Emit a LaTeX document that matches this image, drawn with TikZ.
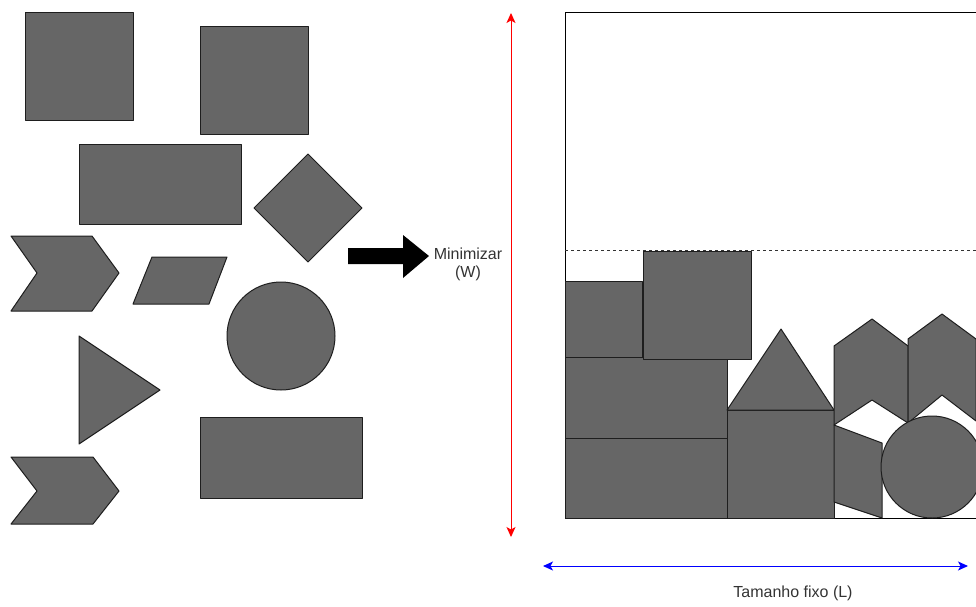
\documentclass[tikz,border=0pt]{standalone}
\usepackage{fontspec}
\setmainfont{Liberation Sans}
\usetikzlibrary{arrows.meta}
\definecolor{shapegray}{HTML}{666666}
\definecolor{shapeline}{HTML}{1E1E1E}
\definecolor{textgray}{HTML}{333333}
\begin{document}
\begin{tikzpicture}[x=1pt,y=-1pt,
  >={Stealth[length=10pt,width=9pt,inset=2.5pt]},
  shp/.style={fill=shapegray, draw=shapeline, line width=1pt, line join=round},
  lbl/.style={text=textgray, font=\fontsize{16}{18}\selectfont, align=center}]
\useasboundingbox (0,0) rectangle (976,606);
\clip (0,0) rectangle (976,606);

% ---- left: loose shapes ----
\draw[shp] (25,12) rectangle (133,120);
\draw[shp] (200,26) rectangle (308,134);
\draw[shp] (79,144) rectangle (241,224);
\draw[shp] (308,154) -- (362,208) -- (308,262) -- (254,208) -- cycle;
\draw[shp] (11,236) -- (92,236) -- (119,273) -- (92,311) -- (11,311) -- (37,273) -- cycle;
\draw[shp] (152,257) -- (227,257) -- (209,304) -- (133,304) -- cycle;
\draw[shp] (281,336) circle[radius=54];
\draw[shp] (79,336) -- (160,390) -- (79,444) -- cycle;
\draw[shp] (200,417) rectangle (362,498);
\draw[shp] (11,457) -- (93,457) -- (119,491) -- (93,524) -- (11,524) -- (37,491) -- cycle;

% ---- block arrow and label ----
\fill[black] (348,248) -- (403,248) -- (403,235) -- (429,256) -- (403,278) -- (403,264) -- (348,264) -- cycle;
\node[lbl] (minlabel) at (468,264) {Minimizar\\(W)};

% ---- red height arrow ----
\coordinate (wtop) at (511,13);
\coordinate (wbot) at (511,537);
\draw[red, line width=1pt, <->] (wtop) -- (wbot);

% ---- container ----
\draw[line width=1pt] (565,12) rectangle (990,518);
\draw[textgray, line width=0.8pt, dash pattern=on 3pt off 3pt] (565,250) -- (976,250);

% ---- packed shapes ----
\draw[shp] (565,438) rectangle (727,518);
\draw[shp] (565,357) rectangle (727,438);
\draw[shp] (565,281) rectangle (642,357);
\draw[shp] (643,251) rectangle (751,359);
\draw[shp] (727,410) rectangle (834,518);
\draw[shp] (727,410) -- (781,329) -- (834,410) -- cycle;
\draw[shp] (834,346) -- (872,319) -- (908,346) -- (908,423) -- (872,400) -- (834,425) -- cycle;
\draw[shp] (908,339) -- (942,314) -- (976,339) -- (976,421) -- (942,395) -- (908,423) -- cycle;
\draw[shp] (834,425) -- (882,443) -- (882,518) -- (834,502) -- cycle;
\draw[shp] (932,467) circle[radius=51];

% ---- blue width arrow ----
\coordinate (lleft) at (543,566);
\coordinate (lright) at (968,566);
\draw[blue, line width=1pt, <->] (lleft) -- (lright);
\node[lbl] (llabel) at (793,593) {Tamanho fixo (L)};
\end{tikzpicture}
\end{document}
